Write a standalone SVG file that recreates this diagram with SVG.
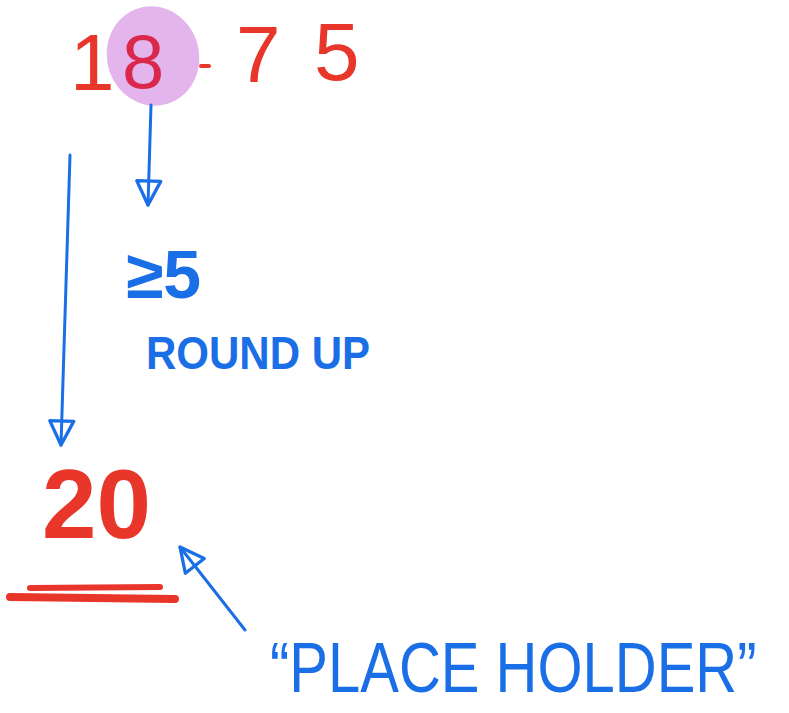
<svg xmlns="http://www.w3.org/2000/svg" width="789" height="713" viewBox="0 0 789 713">
<style>
.red{fill:#e8362b;font-family:"Liberation Sans",Arial,sans-serif}
.blue{fill:#1a6fe6;font-family:"Liberation Sans",Arial,sans-serif}
.conn{stroke:#1a6fe6;stroke-width:3;fill:none;stroke-linecap:round}
</style>
<defs>
<marker id="head" viewBox="0 0 20 20" refX="18" refY="10" markerWidth="30" markerHeight="30" markerUnits="userSpaceOnUse" orient="auto">
<path d="M2,2 L18,10 L2,18 Z" fill="none" stroke="#1a6fe6" stroke-width="2.2" stroke-linejoin="round"/>
</marker>
</defs>
<rect width="789" height="713" fill="#ffffff"/>
<g id="value">
<ellipse cx="153" cy="56" rx="46" ry="50" fill="#e3b5ec" transform="rotate(-15 153 56)"/>
<text class="red" x="70" y="90" font-size="80">1</text>
<text class="red" x="122" y="88" font-size="76" style="fill:#d9284c">8</text>
<path d="M201,66 L209,66" stroke="#e8362b" stroke-width="4" stroke-linecap="round"/>
<text class="red" x="236" y="82" font-size="80">7</text>
<text class="red" x="314" y="80" font-size="82">5</text>
</g>
<g id="rule">
<text class="blue" x="126" y="298" font-size="68" font-weight="bold">≥5</text>
</g>
<g id="round-up">
<text class="blue" x="146" y="369" font-size="46" font-weight="bold" textLength="224" lengthAdjust="spacingAndGlyphs">ROUND UP</text>
</g>
<g id="result">
<text class="red" x="42" y="538" font-size="98" font-weight="bold">20</text>
<path d="M30,588 L160,587" stroke="#e8362b" stroke-width="6" stroke-linecap="round" fill="none"/>
<path d="M10,597 L175,599" stroke="#e8362b" stroke-width="8" stroke-linecap="round" fill="none"/>
</g>
<g id="placeholder">
<text class="blue" transform="translate(270,692) scale(1,1.2)" x="0" y="0" font-size="58">“PLACE  HOLDER”</text>
</g>
<g id="connectors">
<path class="conn" d="M151,105 L148,205" marker-end="url(#head)"/>
<path class="conn" d="M70,155 L61,445" marker-end="url(#head)"/>
<path class="conn" d="M245,630 L180,547" marker-end="url(#head)"/>
</g>
</svg>
